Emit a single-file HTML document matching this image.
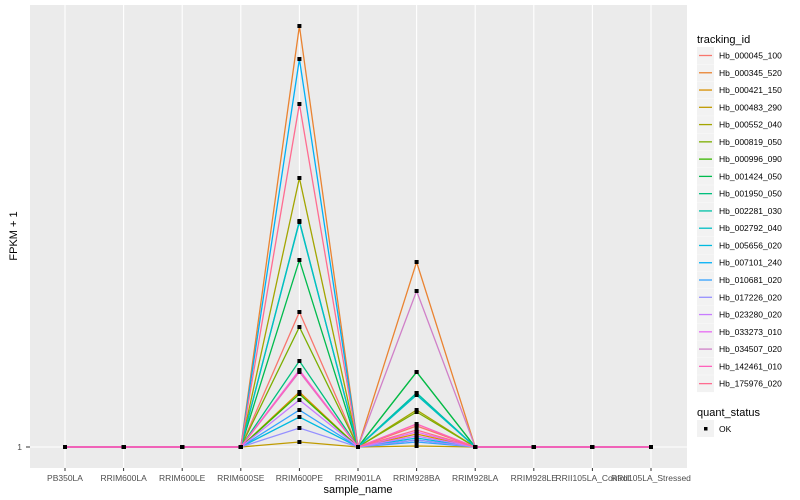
<!DOCTYPE html>
<html><head><meta charset="utf-8"><style>body{margin:0;background:#fff}svg{display:block;font-family:"Liberation Sans",Arial,sans-serif}</style></head>
<body>
<svg id="s" width="800" height="500" xmlns="http://www.w3.org/2000/svg">
<rect x="30" y="5" width="657" height="463" fill="#EBEBEB"/>
<g id="grid" stroke="#fff" stroke-width="1.1"></g>
<g id="lines" fill="none" stroke-width="1.3"></g>
<g id="pts" fill="#000"></g>
<g id="xl" font-size="8.5" fill="#4D4D4D" text-anchor="middle"></g>
<text x="22" y="450" font-size="8.5" fill="#4D4D4D" text-anchor="end">1</text>
<line x1="26" x2="30" y1="447" y2="447" stroke="#333"/>
<text x="358" y="493" font-size="11" text-anchor="middle">sample_name</text>
<text transform="translate(17,236) rotate(-90)" font-size="11" text-anchor="middle">FPKM + 1</text>
<text x="697" y="43" font-size="11">tracking_id</text>
<g id="leg"></g>
<text x="697" y="416" font-size="11">quant_status</text>
<rect x="697" y="420" width="17" height="17" fill="#F2F2F2"/>
<rect x="704" y="427" width="3.5" height="3.5" fill="#000"/>
<text x="719" y="432" font-size="8.5">OK</text>
</svg>
<script>
var X=[];for(var i=0;i<11;i++)X.push(65+i*58.6);
var names=["PB350LA","RRIM600LA","RRIM600LE","RRIM600SE","RRIM600PE","RRIM901LA","RRIM928BA","RRIM928LA","RRIM928LE","RRII105LA_Control","RRII105LA_Stressed"];
var S=[["Hb_000045_100","#F8766D",312,426],["Hb_000345_520","#EA8331",26,262],["Hb_000421_150","#D89000",392,434],["Hb_000483_290","#C09B00",442,446],["Hb_000552_040","#A3A500",178,410],["Hb_000819_050","#7CAE00",327,412],["Hb_000996_090","#39B600",394,372],["Hb_001424_050","#00BB4E",260,372],["Hb_001950_050","#00BF7D",361,393],["Hb_002281_030","#00C1A7",221,393],["Hb_002792_040","#00BFC4",222,395],["Hb_005656_020","#00BAE0",417,438],["Hb_007101_240","#00B0F6",59,440],["Hb_010681_020","#35A2FF",410,442],["Hb_017226_020","#9590FF",428,440],["Hb_023280_020","#C77CFF",400,436],["Hb_033273_010","#E76BF3",370,432],["Hb_034507_020","#D080C8",372,291],["Hb_142461_010","#FF62BC",371,424],["Hb_175976_020","#FF6C91",104,430]];
var ns="http://www.w3.org/2000/svg";function el(p,t,a,tx){var e=document.createElementNS(ns,t);for(var k in a)e.setAttribute(k,a[k]);if(tx)e.textContent=tx;document.getElementById(p).appendChild(e);return e;}
var B=447;
X.forEach(function(x,i){el("grid","line",{x1:x,x2:x,y1:5,y2:468});el("xl","text",{x:x,y:481},names[i]);el("xl","line",{x1:x,x2:x,y1:468,y2:471,stroke:"#333"});});
el("grid","line",{x1:30,x2:687,y1:B,y2:B});
S.forEach(function(s,j){var ys=[B,B,B,B,s[2],B,s[3],B,B,B,B];var d=ys.map(function(y,i){return (i?"L":"M")+X[i]+","+y}).join("");el("lines","path",{d:d,stroke:s[1]});
ys.forEach(function(y,i){el("pts","rect",{x:X[i]-2,y:y-2,width:4,height:4});});
var yy=47+j*17.27;el("leg","rect",{x:697,y:yy,width:17,height:17,fill:"#F2F2F2"});el("leg","line",{x1:699,x2:712,y1:yy+8.5,y2:yy+8.5,stroke:s[1],"stroke-width":1.3});el("leg","text",{x:719,y:yy+11.5,"font-size":"8.5"},s[0]);});
el("lines","path",{d:"M"+X[0]+","+B+"L"+X[3]+","+B+"M"+X[7]+","+B+"L"+X[10]+","+B,stroke:"#F062B8","stroke-width":2});
</script>
</body></html>
